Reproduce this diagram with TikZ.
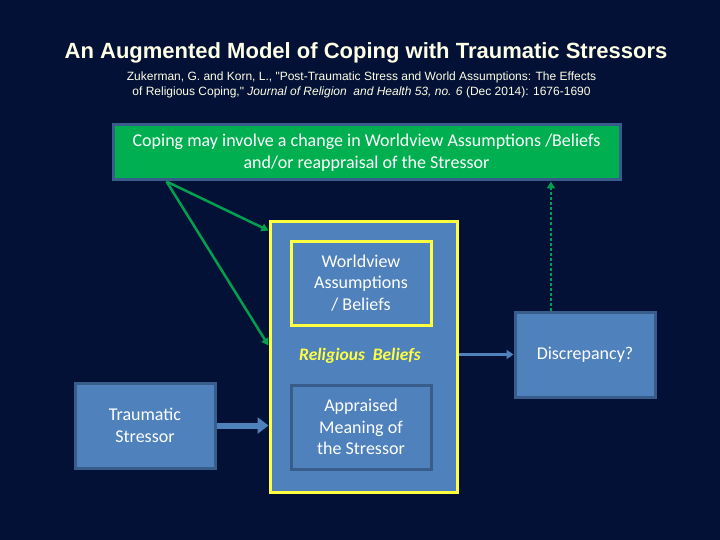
\documentclass[tikz,border=0pt]{standalone}
\usepackage{fontspec}
\setmainfont{Carlito}
\newfontfamily\arialfont{Liberation Sans}
\usetikzlibrary{arrows.meta}
\definecolor{navy}{RGB}{2,17,53}
\definecolor{cream}{RGB}{255,255,230}
\definecolor{copinggreen}{RGB}{0,176,80}
\definecolor{boxblue}{RGB}{79,129,189}
\definecolor{edgeblue}{RGB}{56,93,138}
\definecolor{hiyellow}{RGB}{255,255,64}
\definecolor{arrowgreen}{RGB}{0,160,80}

\begin{document}
\begin{tikzpicture}[x=1pt, y=-1pt, line join=miter,
	every node/.style={text=white, font=\fontsize{18}{21.5}\selectfont, align=center, inner sep=0pt},
	bluebox/.style={draw=edgeblue, line width=3pt, fill=boxblue, minimum width=140pt, minimum height=84pt},
	yellowbox/.style={bluebox, draw=hiyellow},
	bigarrow/.style={draw=boxblue, line width=6pt, -{Triangle[width=16pt, length=11pt]}},
	smallarrow/.style={draw=boxblue, line width=3pt, -{Triangle[width=9pt, length=7pt]}},
	greenarrow/.style={draw=arrowgreen, line width=2.5pt, -{Triangle[width=8pt, length=7pt]}}]

	\fill[navy] (0,0) rectangle (720,540);
	\useasboundingbox (0,0) rectangle (720,540);

	% heading
	\node[text=cream, font=\arialfont\bfseries\fontsize{22}{26}\selectfont] (title) at (366, 53) {An Augmented Model of Coping with Traumatic Stressors};
	\node[text=cream, font=\arialfont\fontsize{12}{15}\selectfont] (source) at (361.5, 85) {Zukerman, G. and Korn, L., "Post-Traumatic Stress and World Assumptions: The Effects\\
		of Religious Coping," \textit{Journal of Religion\ \ and Health 53, no. 6} (Dec 2014): 1676-1690};

	% boxes
	\node[draw=edgeblue, line width=3pt, fill=copinggreen, minimum width=507pt, minimum height=55pt] (coping) at (366.5, 152.5) {Coping may involve a change in Worldview Assumptions /Beliefs\\ and/or reappraisal of the Stressor};
	\node[yellowbox, minimum width=187pt, minimum height=270pt] (outer) at (363.5, 357) {};
	\node[yellowbox] (world) at (361, 283) {Worldview\\ Assumptions\\ / Beliefs};
	\node[text=hiyellow, font=\bfseries\itshape\fontsize{17.5}{20}\selectfont] (relig) at (360, 356) {Religious\ \ Beliefs};
	\node[bluebox] (appraised) at (361, 427) {Appraised\\ Meaning of\\ the Stressor};
	\node[bluebox, minimum height=85pt] (trauma) at (145, 425.5) {Traumatic\\ Stressor};
	\node[bluebox, minimum height=85pt] (disc) at (585, 354.5) {Discrepancy?};

	% connectors
	\coordinate (cfoot) at ([xshift=55pt]coping.south west);
	\coordinate (dtop) at ([xshift=-34pt]disc.north);
	\draw[bigarrow] (trauma.east) -- (trauma.east -| outer.west);
	\draw[smallarrow] (outer.east |- disc.west) -- (disc.west);
	\draw[greenarrow] (cfoot) -- ([yshift=-10pt]outer.north west);
	\draw[greenarrow] (cfoot) -- ([yshift=-125pt]outer.north west);
	\draw[greenarrow, dash pattern=on 3pt off 2pt] (dtop) -- (dtop |- coping.south);
\end{tikzpicture}
\end{document}
